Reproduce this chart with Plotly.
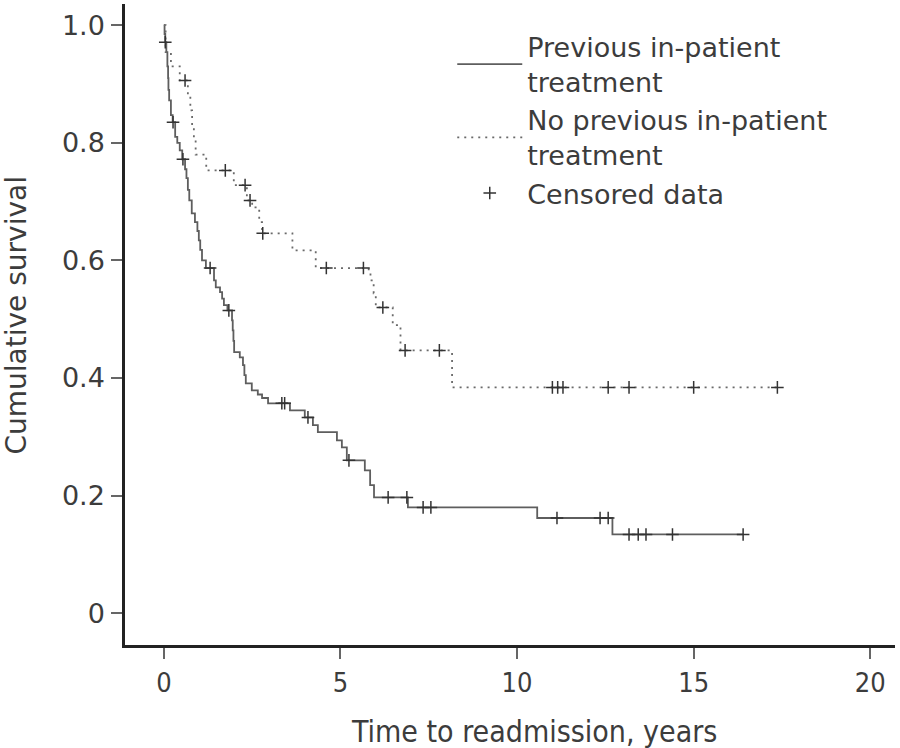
import plotly.graph_objects as go

# ---- data ----
# Previous in-patient treatment: event times (years) and survival after each drop
prev_t = [0.02, 0.04, 0.07, 0.10, 0.12, 0.13, 0.15, 0.20, 0.25, 0.32,
          0.38, 0.45, 0.52, 0.60, 0.64, 0.68, 0.72, 0.79, 0.88, 0.95,
          0.99, 1.03, 1.08, 1.19, 1.42, 1.47, 1.59, 1.65, 1.70, 1.80,
          1.93, 1.95, 1.97, 1.99, 2.15, 2.24, 2.28, 2.32, 2.49, 2.66,
          2.78, 2.95, 3.57, 3.99, 4.22, 4.36, 4.90, 5.04, 5.18, 5.69,
          5.84, 5.95, 6.91, 10.57, 12.70]
prev_s = [0.985, 0.971, 0.954, 0.930, 0.910, 0.890, 0.872, 0.847, 0.835, 0.810,
          0.800, 0.787, 0.772, 0.755, 0.740, 0.720, 0.702, 0.680, 0.665, 0.650,
          0.634, 0.618, 0.600, 0.587, 0.566, 0.554, 0.546, 0.535, 0.524, 0.515,
          0.498, 0.481, 0.463, 0.444, 0.435, 0.422, 0.405, 0.391, 0.379, 0.372,
          0.366, 0.357, 0.345, 0.333, 0.320, 0.308, 0.294, 0.282, 0.260, 0.243,
          0.218, 0.197, 0.180, 0.162, 0.134]
prev_censor = [0.04, 0.26, 0.54, 1.31, 1.84, 3.34, 3.42, 4.08, 5.24, 6.35,
               6.88, 7.34, 7.56, 11.13, 12.35, 12.58, 13.17, 13.43, 13.65,
               14.40, 16.40]

# No previous in-patient treatment
no_t = [0.05, 0.20, 0.45, 0.68, 0.75, 0.80, 0.85, 0.90, 1.20, 1.98,
        2.35, 2.50, 2.70, 2.78, 3.64, 4.30, 5.80, 5.85, 5.94, 6.00,
        6.48, 6.70, 8.16]
no_s = [0.954, 0.930, 0.906, 0.880, 0.855, 0.830, 0.805, 0.780, 0.753, 0.728,
        0.702, 0.690, 0.665, 0.646, 0.617, 0.587, 0.580, 0.566, 0.544, 0.520,
        0.490, 0.447, 0.384]
no_censor = [0.60, 1.74, 2.30, 2.44, 2.80, 4.60, 5.65, 6.20, 6.83, 7.80,
             11.00, 11.15, 11.30, 12.58, 13.17, 15.00, 17.37]

x_ticks = [0, 5, 10, 15, 20]
y_ticks = [0, 0.2, 0.4, 0.6, 0.8, 1.0]
y_tick_text = ["0", "0.2", "0.4", "0.6", "0.8", "1.0"]

assert len(prev_t) == len(prev_s) and len(no_t) == len(no_s)


def surv_at(times, survs, t):
    s = 1.0
    for ti, si in zip(times, survs):
        if ti <= t:
            s = si
    return s


def step_xy(times, survs, end):
    return [0.0] + times + [end], [1.0] + survs + [survs[-1]]


FONT = "DejaVu Sans"
FONT_C = "DejaVu Sans Condensed, DejaVu Sans"
TXT = "#3c3c3c"

fig = go.Figure()

px_, py_ = step_xy(prev_t, prev_s, max(prev_censor))
fig.add_trace(go.Scatter(x=px_, y=py_, mode="lines", line_shape="hv",
                         line=dict(color="#5e5e5e", width=1.8),
                         name="Previous in-patient<br>treatment"))
nx_, ny_ = step_xy(no_t, no_s, max(no_censor))
fig.add_trace(go.Scatter(x=nx_, y=ny_, mode="lines", line_shape="hv",
                         line=dict(color="#6a6a6a", width=1.8, dash="2px,5px"),
                         name="No previous in-patient<br>treatment"))

cx = prev_censor + no_censor
cy = [surv_at(prev_t, prev_s, t) for t in prev_censor] + \
     [surv_at(no_t, no_s, t) for t in no_censor]
fig.add_trace(go.Scatter(x=cx, y=cy, mode="markers",
                         marker=dict(symbol="cross-thin", size=9,
                                     line=dict(color="#333333", width=1.5)),
                         name="Censored data"))

fig.update_layout(
    width=900, height=748,
    margin=dict(l=125, r=5, t=4, b=103),
    paper_bgcolor="white", plot_bgcolor="white",
    showlegend=True,
    legend=dict(x=0.425, y=0.971, xanchor="left", yanchor="top",
                itemwidth=65, bgcolor="rgba(0,0,0,0)",
                font=dict(family=FONT, size=27, color=TXT),
                tracegroupgap=6),
    font=dict(family=FONT, color=TXT),
    annotations=[
        dict(text="Cumulative survival", textangle=-90,
             xref="paper", yref="paper", x=0, y=0.5,
             xanchor="center", yanchor="middle",
             xshift=-109, yshift=9, showarrow=False,
             font=dict(family=FONT, size=28, color=TXT)),
        dict(text="Time to readmission, years",
             xref="paper", yref="paper", x=0.5, y=0,
             xanchor="center", yanchor="middle",
             xshift=24, yshift=-86, showarrow=False,
             font=dict(family=FONT_C, size=30, color=TXT)),
    ],
)
fig.update_xaxes(range=[-1.1, 20.7], tickvals=x_ticks, showgrid=False,
                 zeroline=False, showline=True, linecolor="#222222", linewidth=2.5,
                 ticks="outside", ticklen=11, tickwidth=1.5, tickcolor="#666666",
                 ticklabelstandoff=1,
                 tickfont=dict(family=FONT_C, size=27, color=TXT))
fig.update_yaxes(range=[-0.054, 1.036], tickvals=y_ticks, ticktext=y_tick_text,
                 showgrid=False, zeroline=False, showline=True,
                 linecolor="#222222", linewidth=2.5,
                 ticks="outside", ticklen=11, tickwidth=1.5, tickcolor="#666666",
                 ticklabelstandoff=1,
                 tickfont=dict(family=FONT, size=27, color=TXT))

fig.write_html("out.html",
               config={"displayModeBar": False},
               post_script="document.body.style.margin='0';"
                           "document.body.style.overflow='hidden';")
